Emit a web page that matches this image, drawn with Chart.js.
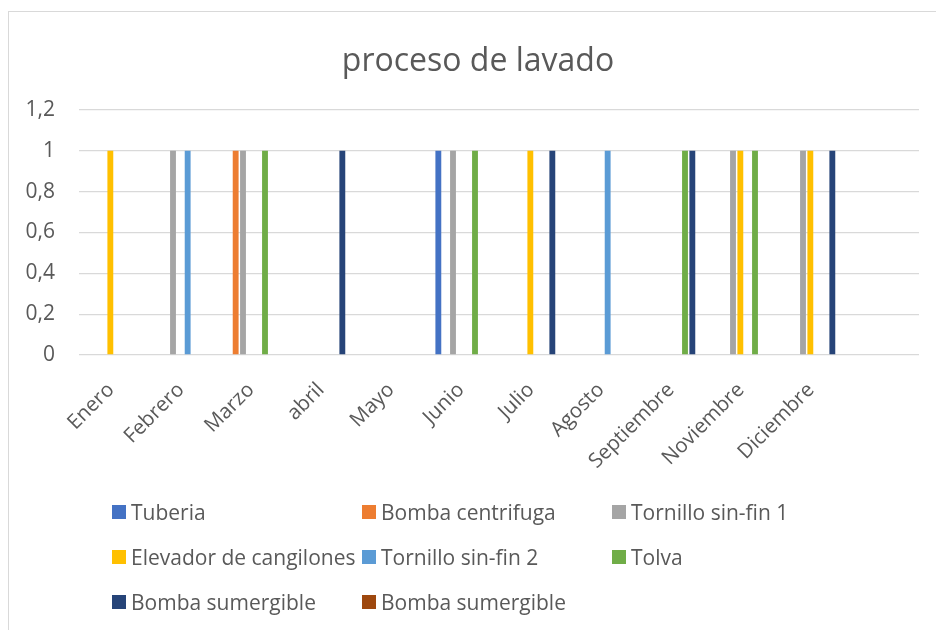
<!DOCTYPE html>
<html>
<head>
<meta charset="utf-8">
<title>proceso de lavado</title>
<script src="https://cdn.jsdelivr.net/npm/chart.js@4.4.1/dist/chart.umd.min.js"></script>
<style>
  body { margin: 0; background: #fff; }
  #wrap { position: relative; width: 936px; height: 630px; overflow: hidden; }
  #frame { position: absolute; left: 8px; top: 11px; right: 0; bottom: 0;
           border-top: 1.5px solid #d9d9d9; border-left: 1.5px solid #d9d9d9; }
  #lavadoChart { position: absolute; left: 0; top: 0; }
  /* title as html so it can sit a bit off the canvas centre, like excel */
  #title { position: absolute; left: 0; top: 40px; width: 956px; height: 38px; line-height: 38px;
           text-align: center; font-family: 'Open Sans', sans-serif; font-size: 32px; color: #595959; }
  #legend { position: absolute; left: 112px; top: 489px;
            display: grid; grid-template-columns: 250px 250px 250px; grid-auto-rows: 45px;
            font-family: 'Open Sans', sans-serif; font-size: 21px; color: #595959; }
  #legend div { display: flex; align-items: center; white-space: nowrap; }
  #legend span.box { width: 14px; height: 14px; margin-right: 5px; flex: none; }
</style>
</head>
<body>
<div id="wrap">
  <div id="frame"></div>
  <canvas id="lavadoChart" width="936" height="630"></canvas>
  <div id="title">proceso de lavado</div>
  <div id="legend"></div>
</div>
<script>
// months (the last category has no label in the original)
var months = ['Enero', 'Febrero', 'Marzo', 'abril', 'Mayo', 'Junio', 'Julio', 'Agosto', 'Septiembre', 'Noviembre', 'Diciembre', ''];
var n = null;
// one list per equipment, 1 = maintenance that month
var tuberia          = [n, n, n, n, n, 1, n, n, n, n, n, n];
var bombaCentrifuga  = [n, n, 1, n, n, n, n, n, n, n, n, n];
var tornillo1        = [n, 1, 1, n, n, 1, n, n, n, 1, 1, n];
var elevador         = [1, n, n, n, n, n, 1, n, n, 1, 1, n];
var tornillo2        = [n, 1, n, n, n, n, n, 1, n, n, n, n];
var tolva            = [n, n, 1, n, n, 1, n, n, 1, 1, n, n];
var bombaSumergible  = [n, n, n, 1, n, n, 1, n, 1, n, 1, n];
var bombaSumergible2 = [n, n, n, n, n, n, n, n, n, n, n, n];
var yTicks = [0, 0.2, 0.4, 0.6, 0.8, 1, 1.2];

var textColor = '#595959';
var gridColor = '#d9d9d9';

function bar(label, values, color) {
    return { label: label, data: values, backgroundColor: color, borderWidth: 0 };
}

// html legend, 3 columns like the excel one
var htmlLegend = {
    id: 'htmlLegend',
    afterUpdate: function (chart) {
        var box = document.getElementById('legend');
        box.innerHTML = '';
        chart.data.datasets.forEach(function (ds) {
            var item = document.createElement('div');
            var sq = document.createElement('span');
            sq.className = 'box';
            sq.style.background = ds.backgroundColor;
            item.appendChild(sq);
            item.appendChild(document.createTextNode(ds.label));
            box.appendChild(item);
        });
    }
};

var ctx = document.getElementById('lavadoChart').getContext('2d');
var lavadoChart = new Chart(ctx, {
    type: 'bar',
    data: {
        labels: months,
        datasets: [
            bar('Tuberia', tuberia, '#4472C4'),
            bar('Bomba centrifuga', bombaCentrifuga, '#ED7D31'),
            bar('Tornillo sin-fin 1', tornillo1, '#A5A5A5'),
            bar('Elevador de cangilones', elevador, '#FFC000'),
            bar('Tornillo sin-fin 2', tornillo2, '#5B9BD5'),
            bar('Tolva', tolva, '#70AD47'),
            bar('Bomba sumergible', bombaSumergible, '#264478'),
            bar('Bomba sumergible', bombaSumergible2, '#9E480E')
        ]
    },
    options: {
        responsive: false,
        animation: false,
        categoryPercentage: 0.838,
        barPercentage: 0.8,
        layout: { padding: { left: 20, right: 17, top: 110, bottom: 150 } },
        plugins: {
            legend: { display: false },
            tooltip: { enabled: false },
            title: { display: false }
        },
        scales: {
            x: {
                grid: { display: false },
                border: { display: false },
                ticks: {
                    color: textColor,
                    font: { family: 'Open Sans', size: 20.5 },
                    autoSkip: false,
                    minRotation: 45,
                    maxRotation: 45,
                    padding: 15,
                    labelOffset: -3
                },
                afterFit: function (scale) { scale.height = 125; }
            },
            y: {
                min: 0,
                max: 1.2,
                afterBuildTicks: function (scale) {
                    scale.ticks = yTicks.map(function (v) { return { value: v }; });
                },
                grid: { color: gridColor, lineWidth: 1.3, drawTicks: false },
                border: { display: false },
                ticks: {
                    color: textColor,
                    font: { family: 'Open Sans', size: 21 },
                    padding: 24,
                    callback: function (v) { return String(+v.toFixed(1)).replace('.', ','); }
                },
                afterFit: function (scale) { scale.width = 59; }
            }
        }
    },
    plugins: [htmlLegend]
});
</script>
</body>
</html>
